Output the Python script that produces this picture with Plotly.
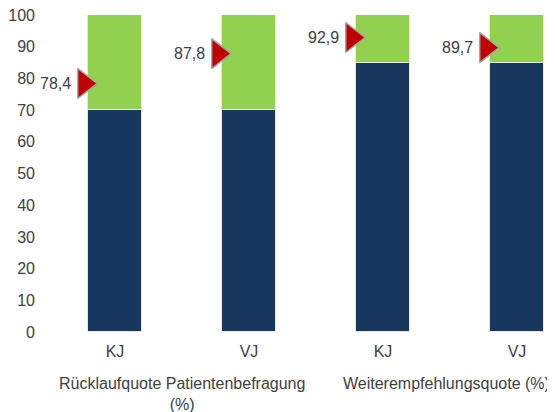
import plotly.graph_objects as go

categories = ["KJ", "VJ", "KJ", "VJ"]
groups = ["Rücklaufquote Patientenbefragung<br>(%)", "Weiterempfehlungsquote (%)"]
base_values = [70, 70, 85, 85]
top_values = [30, 30, 15, 15]
marker_values = [78.4, 87.8, 92.9, 89.7]
marker_labels = ["78,4", "87,8", "92,9", "89,7"]

x = list(range(len(categories)))
bar_w = 0.4
txt = "#404040"
font = "Liberation Sans, Arial, sans-serif"
mx = [i - bar_w / 2 - 0.03 for i in x]

fig = go.Figure()
fig.add_trace(go.Bar(x=x, y=base_values, width=bar_w, marker=dict(color="#17375E", line=dict(color="#E6E6E6", width=1)), showlegend=False))
fig.add_trace(go.Bar(x=x, y=top_values, width=bar_w, marker=dict(color="#92D050", line=dict(color="#E6E6E6", width=1)), showlegend=False))
fig.add_trace(go.Scatter(
    x=mx, y=marker_values, mode="markers",
    marker=dict(symbol="triangle-right", size=26, color="#C00000", line=dict(color="#A6A6A6", width=1.5)),
    showlegend=False, cliponaxis=False))

for xi, v, lab in zip(mx, marker_values, marker_labels):
    fig.add_annotation(x=xi, y=v, xref="x", yref="y", xanchor="right", xshift=-11, text=lab,
                       showarrow=False, font=dict(size=16, color=txt, family=font))

for gi, (g, shift) in enumerate(zip(groups, [0, -4])):
    fig.add_annotation(x=2 * gi + 0.5, xref="x", y=0, yref="paper", yanchor="top", yshift=-41,
                       xshift=shift, text=g, showarrow=False, font=dict(size=16, color=txt, family=font))

fig.update_layout(
    width=547, height=404, barmode="stack", bargap=0,
    margin=dict(l=40, r=0, t=7, b=80),
    paper_bgcolor="white", plot_bgcolor="white",
    font=dict(family=font, color=txt, size=16),
    xaxis=dict(range=[-0.5, -0.5 + 507 / 134], tickvals=x, ticktext=categories, showgrid=False,
               zeroline=False, showline=False, ticks="", ticklabelstandoff=8, tickfont=dict(size=16, color=txt)),
    yaxis=dict(range=[0, 100], dtick=10, showgrid=False, zeroline=False, showline=False, ticks="",
               ticklabelstandoff=12, ticklabeloverflow="allow", tickfont=dict(size=16, color=txt)),
)
fig.write_html("out.html")
